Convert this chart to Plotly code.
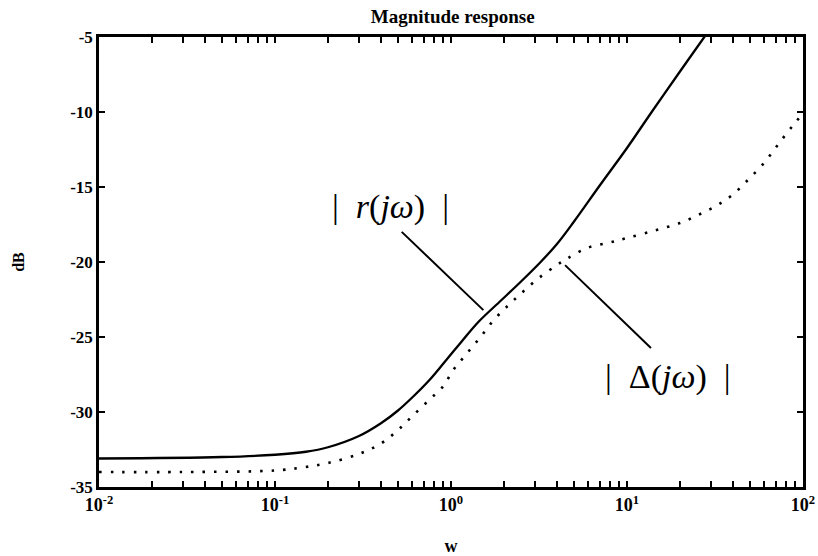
import plotly.graph_objects as go

# Frequency grid (rad/s) and magnitude responses in dB
w_r = [0.01, 0.05, 0.1, 0.15, 0.2, 0.3, 0.4, 0.5, 0.6, 0.75, 0.93, 1.15, 1.43,
       1.93, 2.5, 3.2, 4.0, 5.0, 7.0, 10.0, 14.0, 20.0, 27.5, 32.0]
mag_r = [-33.1, -33.0, -32.85, -32.65, -32.35, -31.6, -30.75, -29.9, -29.05, -27.9,
         -26.6, -25.3, -24.0, -22.55, -21.3, -20.05, -18.8, -17.3, -14.9, -12.4,
         -9.9, -7.3, -5.0, -3.9]

w_d = [0.01, 0.03, 0.1, 0.143, 0.2, 0.3, 0.4, 0.5, 0.6, 0.75, 0.9, 1.03, 1.23,
       1.47, 1.74, 2.11, 2.5, 3.13, 4.0, 4.6, 6.0, 8.0, 10.0, 14.4, 20.0, 25.0,
       31.6, 39.0, 48.0, 60.0, 74.0, 89.0, 100.0]
mag_d = [-34.0, -34.0, -33.9, -33.7, -33.4, -32.8, -32.1, -31.2, -30.3, -29.2,
         -28.3, -27.2, -26.1, -25.0, -23.9, -22.9, -22.1, -21.1, -20.2, -19.75,
         -19.05, -18.7, -18.4, -17.9, -17.4, -16.9, -16.3, -15.6, -14.6, -13.4,
         -12.0, -10.8, -10.1]

x_decades = [0.01, 0.1, 1, 10, 100]
x_decade_text = ["<b>10<sup>-2</sup></b>", "<b>10<sup>-1</sup></b>", "<b>10<sup>0</sup></b>",
                 "<b>10<sup>1</sup></b>", "<b>10<sup>2</sup></b>"]
y_tickvals = [-5, -10, -15, -20, -25, -30, -35]
y_ticktext = ["<b>%d</b>" % v for v in y_tickvals]

# log-axis ticks: labelled decades plus unlabelled 2..9 in each decade
x_minor = [m * 10.0 ** e for e in range(-2, 2) for m in range(2, 10)]
x_tickvals = x_decades + x_minor
x_ticktext = x_decade_text + [""] * len(x_minor)

serif = "Liberation Serif"
gap = "\u00a0\u00a0"

fig = go.Figure()
fig.add_trace(go.Scatter(
    x=w_r, y=mag_r, mode="lines", line=dict(color="black", width=2.3, shape="spline"),
    showlegend=False, hoverinfo="skip"))
fig.add_trace(go.Scatter(
    x=w_d, y=mag_d, mode="lines",
    line=dict(color="black", width=2.6, dash="2.5px,9px", shape="spline"),
    showlegend=False, hoverinfo="skip"))

# Leader lines from the labels to the curves
fig.add_shape(type="line", xref="paper", yref="paper",
              x0=0.430, y0=0.567, x1=0.546, y1=0.393,
              line=dict(color="black", width=2))
fig.add_shape(type="line", xref="paper", yref="paper",
              x0=0.662, y0=0.493, x1=0.784, y1=0.309,
              line=dict(color="black", width=2))

fig.add_annotation(xref="paper", yref="paper", x=0.414, y=0.622,
                   xanchor="center", yanchor="middle",
                   text="|" + gap + "<i>r</i>(<i>jω</i>)" + gap + "|", showarrow=False,
                   font=dict(family=serif, size=34, color="black"))
fig.add_annotation(xref="paper", yref="paper", x=0.808, y=0.244,
                   xanchor="center", yanchor="middle",
                   text="|" + gap + "Δ(<i>jω</i>)" + gap + "|", showarrow=False,
                   font=dict(family=serif, size=34, color="black"))

fig.update_layout(
    width=818, height=556,
    margin=dict(l=99, r=12, t=37, b=69),
    paper_bgcolor="white", plot_bgcolor="white",
    title=dict(text="<b>Magnitude response</b>", x=0.5535, xanchor="center",
               y=0.97, yanchor="middle",
               font=dict(family=serif, size=19, color="black")),
    xaxis=dict(
        type="log", range=[-2, 2], automargin=False, ticklabeloverflow="allow",
        tickmode="array", tickvals=x_tickvals, ticktext=x_ticktext,
        ticks="inside", ticklen=6, tickwidth=1.5, tickcolor="black",
        showline=True, linecolor="black", linewidth=2.5, mirror="ticks",
        showgrid=False, zeroline=False,
        tickfont=dict(family=serif, size=18, color="black"),
        title=dict(text="<b>w</b>", standoff=26,
                   font=dict(family=serif, size=18, color="black")),
    ),
    yaxis=dict(
        range=[-35, -5], tickvals=y_tickvals, ticktext=y_ticktext,
        ticks="inside", ticklen=6, tickwidth=1.5, tickcolor="black",
        showline=True, linecolor="black", linewidth=2.5, mirror="ticks",
        showgrid=False, zeroline=False,
        tickfont=dict(family=serif, size=17, color="black"),
        title=dict(text="<b>dB</b>", standoff=42,
                   font=dict(family=serif, size=16, color="black")),
    ),
)

fig.write_html("out.html")
